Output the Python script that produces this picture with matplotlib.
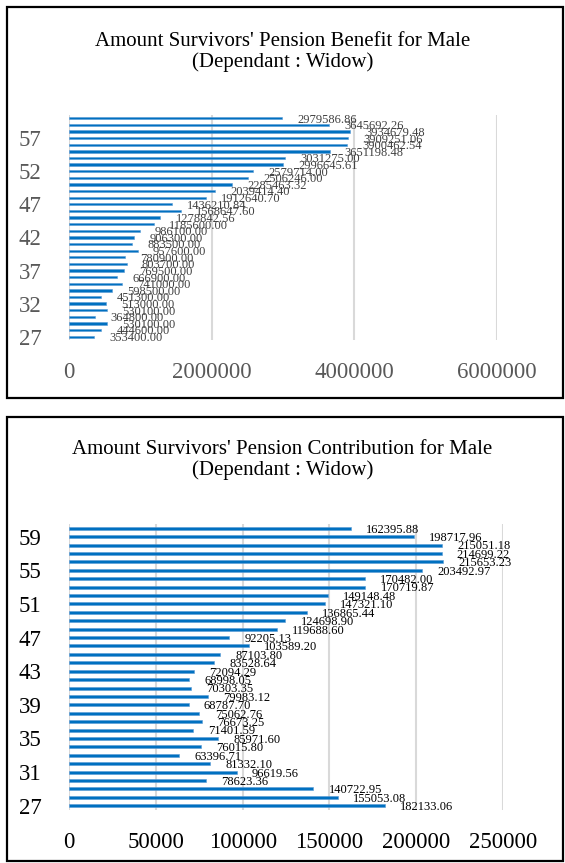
import matplotlib
matplotlib.use("Agg")
import matplotlib.pyplot as plt
from matplotlib.patches import Rectangle
from matplotlib.ticker import FuncFormatter
import numpy as np

plt.rcParams['font.family'] = ['Liberation Serif', 'DejaVu Serif']

ages = list(range(27, 61))

# benefit, listed from age 27 up to age 60
benefit = [353400.00, 444600.00, 530100.00, 364800.00, 530100.00, 513000.00,
           451300.00, 598500.00, 741000.00, 666900.00, 769500.00, 803700.00,
           780900.00, 957600.00, 883500.00, 906300.00, 986100.00, 1185600.00,
           1278842.56, 1568647.60, 1436210.84, 1912640.70, 2039414.40,
           2285463.32, 2506246.00, 2579714.00, 2996645.61, 3031275.00,
           3651198.48, 3900462.54, 3909251.06, 3934679.48, 3645692.26,
           2979586.86]

contribution = [182133.06, 155053.08, 140722.95, 78623.36, 96619.56, 81332.10,
                63396.71, 76015.80, 85971.60, 71401.59, 76673.25, 75062.76,
                68787.70, 79983.12, 70303.35, 68998.05, 72094.29, 83528.64,
                87103.80, 103589.20, 92205.13, 119688.60, 124698.90, 136865.44,
                147321.10, 149148.48, 170719.87, 170482.00, 203492.97,
                215653.23, 214699.22, 215051.18, 198717.96, 162395.88]

titles = ["Amount Survivors' Pension Benefit for Male\n(Dependant : Widow)",
          "Amount Survivors' Pension Contribution for Male\n(Dependant : Widow)"]

W, H = 565, 863
fig = plt.figure(figsize=(W / 100, H / 100), dpi=100)


def frac(x0, y0, x1, y1):
    # pixel box (top-left origin) -> figure fraction rect
    return [x0 / W, 1 - y1 / H, (x1 - x0) / W, (y1 - y0) / H]


def panel(rect, vals, xmax, xstep, ystep, txt_col, lab_col, title, title_y):
    ax = fig.add_axes(rect)
    ax.barh(ages, vals, height=0.35, color='#0070C0', edgecolor='#5B9BD5',
            linewidth=0.4, zorder=3)
    ax.set_xlim(0, xmax)
    ax.set_ylim(26.5, 60.5)
    ax.set_xticks(np.arange(0, xmax + 1, xstep))
    ax.xaxis.set_major_formatter(FuncFormatter(lambda v, p: '%d' % v))
    ax.set_yticks(ages[::ystep])
    ax.tick_params(length=0, labelsize=16.5, colors=txt_col)
    ax.tick_params(axis='x', pad=16)
    ax.tick_params(axis='y', pad=20)
    ax.grid(axis='x', color='#D9D9D9', linewidth=1.5, zorder=0)
    for s in ax.spines.values():
        s.set_visible(False)
    for a, v in zip(ages, vals):
        ax.annotate('%.2f' % v, (v, a), xytext=(11, -1), textcoords='offset points',
                    va='center', ha='left', fontsize=9, color=lab_col, zorder=4)
    fig.text(0.5, title_y, title, ha='center', va='center', fontsize=15,
             linespacing=1.1, color='black')
    return ax


panel(frac(69.3, 115, 497, 340), benefit, 6000000, 2000000, 5,
      '#595959', '#404040', titles[0], 1 - 52 / H)
panel(frac(69.3, 524, 502.7, 810), contribution, 250000, 50000, 4,
      'black', 'black', titles[1], 1 - 460 / H)

# outer frames around each chart
for (x0, y0, x1, y1) in [(7, 7, 563, 398), (7, 417, 563, 861)]:
    fig.patches.append(Rectangle((x0 / W, 1 - y1 / H), (x1 - x0) / W, (y1 - y0) / H,
                                 transform=fig.transFigure, fill=False,
                                 edgecolor='black', linewidth=1.6))

fig.savefig('out.png', dpi=100)
